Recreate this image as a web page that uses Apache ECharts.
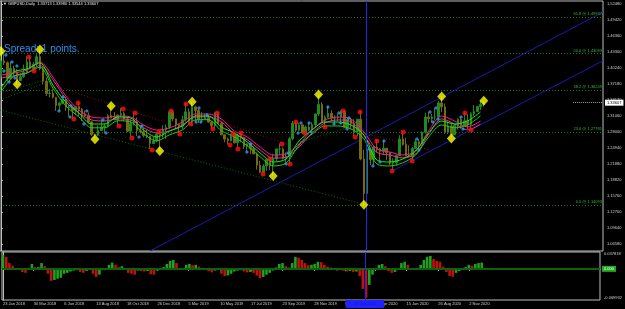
<!DOCTYPE html>
<html>
<head>
<meta charset="utf-8">
<script src="https://cdn.jsdelivr.net/npm/echarts@6/dist/echarts.min.js"></script>
<style>
    html, body { margin: 0; padding: 0; background: #000; }
    #chart { width: 625px; height: 309px; }
</style>
</head>
<body>
<div id="chart"></div>
<script>
// GBPUSD, one bar per week, week 0 = 22 Jan 2018
const firstOpen = 1.3865;
const weekHigh = [
    1.4345, 1.4283, 1.4148, 1.4145, 1.4070, 1.4003, 1.3930, 1.4088, 1.4245, 1.4243,
    1.4137, 1.4290, 1.4377, 1.4050, 1.3840, 1.3620, 1.3615, 1.3470, 1.3380, 1.3470,
    1.3470, 1.3315, 1.3290, 1.3300, 1.3360, 1.3260, 1.3210, 1.3175, 1.2985, 1.2770,
    1.2925, 1.3045, 1.2965, 1.3140, 1.3298, 1.3180, 1.3130, 1.3258, 1.3185, 1.3095,
    1.3040, 1.3175, 1.3075, 1.2930, 1.2880, 1.2840, 1.2670, 1.2715, 1.2790, 1.2815,
    1.2930, 1.2945, 1.3215, 1.3215, 1.3055, 1.2965, 1.3110, 1.3350, 1.3250, 1.3380,
    1.3300, 1.3250, 1.3180, 1.3150, 1.3120, 1.3000, 1.3175, 1.3175, 1.3000, 1.2750,
    1.2690, 1.2765, 1.2760, 1.2765, 1.2785, 1.2710, 1.2580, 1.2580, 1.2520, 1.2410,
    1.2250, 1.2185, 1.2275, 1.2310, 1.2385, 1.2480, 1.2580, 1.2505, 1.2410, 1.2710,
    1.3012, 1.3000, 1.2975, 1.2950, 1.2925, 1.2985, 1.2985, 1.3155, 1.3515, 1.3370,
    1.3115, 1.3285, 1.3215, 1.3120, 1.3150, 1.3210, 1.3215, 1.3070, 1.3065, 1.3045,
    1.3050, 1.3200, 1.2460, 1.2485, 1.2485, 1.2545, 1.2650, 1.2495, 1.2645, 1.2495,
    1.2400, 1.2295, 1.2370, 1.2735, 1.2815, 1.2690, 1.2545, 1.2515, 1.2670, 1.2665,
    1.2810, 1.3170, 1.3185, 1.3145, 1.3265, 1.3395, 1.3480, 1.3345, 1.3005, 1.2980,
    1.2955, 1.3060, 1.3085, 1.3175, 1.3140, 1.3180, 1.3315, 1.3300, 1.3400, 1.3398
];
const weekLow = [
    1.3855, 1.4080, 1.3765, 1.3835, 1.3855, 1.3711, 1.3800, 1.3837, 1.3930, 1.4000,
    1.3965, 1.4050, 1.3980, 1.3710, 1.3486, 1.3460, 1.3440, 1.3205, 1.3205, 1.3330,
    1.3205, 1.3100, 1.3050, 1.3120, 1.3105, 1.3010, 1.3085, 1.2957, 1.2725, 1.2662,
    1.2725, 1.2850, 1.2785, 1.2890, 1.3060, 1.3025, 1.2925, 1.3080, 1.3005, 1.2800,
    1.2700, 1.2925, 1.2725, 1.2770, 1.2700, 1.2680, 1.2475, 1.2580, 1.2605, 1.2438,
    1.2690, 1.2670, 1.2855, 1.3005, 1.2855, 1.2775, 1.2855, 1.3000, 1.2960, 1.2945,
    1.3005, 1.2975, 1.2990, 1.3045, 1.2975, 1.2865, 1.2875, 1.2955, 1.2750, 1.2605,
    1.2560, 1.2620, 1.2580, 1.2505, 1.2605, 1.2475, 1.2440, 1.2380, 1.2380, 1.2080,
    1.2015, 1.2015, 1.2060, 1.2070, 1.1958, 1.2235, 1.2360, 1.2275, 1.2195, 1.2195,
    1.2640, 1.2800, 1.2825, 1.2770, 1.2770, 1.2825, 1.2820, 1.2890, 1.3105, 1.2975,
    1.2900, 1.3075, 1.3010, 1.2955, 1.3015, 1.2955, 1.2870, 1.2870, 1.2850, 1.2725,
    1.2725, 1.2260, 1.1409, 1.1475, 1.2165, 1.2165, 1.2410, 1.2245, 1.2360, 1.2265,
    1.2165, 1.2080, 1.2160, 1.2340, 1.2540, 1.2335, 1.2335, 1.2250, 1.2480, 1.2480,
    1.2565, 1.2770, 1.2980, 1.2980, 1.3025, 1.3065, 1.3180, 1.2765, 1.2760, 1.2675,
    1.2805, 1.2845, 1.2865, 1.2915, 1.2855, 1.2855, 1.3105, 1.3200, 1.3220, 1.3285
];
const weekClose = [
    1.4157, 1.4126, 1.3820, 1.4018, 1.3940, 1.3786, 1.3857, 1.3940, 1.4140, 1.4015,
    1.4095, 1.4240, 1.4010, 1.3770, 1.3535, 1.3540, 1.3465, 1.3310, 1.3350, 1.3420,
    1.3270, 1.3265, 1.3215, 1.3285, 1.3235, 1.3140, 1.3110, 1.2995, 1.2750, 1.2740,
    1.2830, 1.2895, 1.2920, 1.3115, 1.3070, 1.3035, 1.3125, 1.3150, 1.3050, 1.2815,
    1.2970, 1.2995, 1.2825, 1.2805, 1.2735, 1.2720, 1.2580, 1.2630, 1.2755, 1.2742,
    1.2840, 1.2885, 1.3185, 1.3050, 1.2940, 1.2910, 1.3035, 1.3185, 1.3005, 1.3280,
    1.3210, 1.3030, 1.3040, 1.3070, 1.2990, 1.2920, 1.3170, 1.2960, 1.2745, 1.2665,
    1.2630, 1.2740, 1.2595, 1.2735, 1.2695, 1.2525, 1.2575, 1.2480, 1.2380, 1.2165,
    1.2030, 1.2150, 1.2275, 1.2165, 1.2290, 1.2475, 1.2475, 1.2290, 1.2330, 1.2670,
    1.2965, 1.2835, 1.2935, 1.2780, 1.2895, 1.2840, 1.2940, 1.3145, 1.3325, 1.3010,
    1.3080, 1.3155, 1.3065, 1.3075, 1.3085, 1.3200, 1.2890, 1.3045, 1.2960, 1.2810,
    1.3045, 1.2285, 1.1625, 1.2460, 1.2270, 1.2510, 1.2475, 1.2430, 1.2490, 1.2405,
    1.2200, 1.2215, 1.2350, 1.2665, 1.2560, 1.2340, 1.2335, 1.2485, 1.2615, 1.2570,
    1.2795, 1.3085, 1.3055, 1.3085, 1.3090, 1.3355, 1.3280, 1.2795, 1.2915, 1.2745,
    1.2925, 1.3045, 1.2915, 1.3015, 1.2945, 1.3150, 1.3190, 1.3285, 1.3325, 1.3361
];

// moving averages, read every 4th week
const maWeeks = [0, 4, 8, 12, 16, 20, 24, 28, 32, 36, 40, 44, 48, 52, 56, 60, 64, 68, 72,
    76, 80, 84, 88, 92, 96, 100, 104, 108, 112, 116, 120, 124, 128, 132, 136, 140, 144, 148];
const pinkUpper = [1.3890, 1.3928, 1.3986, 1.4139, 1.3852, 1.3489, 1.3221, 1.3087, 1.3068, 1.3106,
    1.3087, 1.2934, 1.2838, 1.2877, 1.2991, 1.3144, 1.3144, 1.3049, 1.2819, 1.2704, 1.2513, 1.2360,
    1.2379, 1.2571, 1.2838, 1.3030, 1.3087, 1.3049, 1.2800, 1.2475, 1.2418, 1.2360, 1.2437, 1.2819,
    1.3106, 1.3010, 1.2896, 1.3010];
const pinkLower = [1.3835, 1.3870, 1.3925, 1.4070, 1.3800, 1.3435, 1.3165, 1.3030, 1.3010, 1.3050,
    1.3030, 1.2880, 1.2780, 1.2820, 1.2935, 1.3085, 1.3090, 1.2995, 1.2765, 1.2650, 1.2455, 1.2300,
    1.2320, 1.2515, 1.2780, 1.2975, 1.3030, 1.2995, 1.2735, 1.2410, 1.2360, 1.2305, 1.2380, 1.2760,
    1.3050, 1.2955, 1.2840, 1.2950];
const greenUpper = [1.3642, 1.3948, 1.4005, 1.4120, 1.3699, 1.3374, 1.3163, 1.2953, 1.2953, 1.3087,
    1.3068, 1.2838, 1.2704, 1.2819, 1.2915, 1.3106, 1.3106, 1.2896, 1.2781, 1.2609, 1.2398, 1.2226,
    1.2284, 1.2628, 1.2838, 1.2991, 1.2991, 1.2934, 1.2743, 1.2265, 1.2226, 1.2284, 1.2437, 1.2781,
    1.3010, 1.2953, 1.3010, 1.3183];
const greenLower = [1.3570, 1.3870, 1.3930, 1.4040, 1.3640, 1.3300, 1.3090, 1.2880, 1.2880, 1.3015,
    1.2995, 1.2765, 1.2630, 1.2745, 1.2840, 1.3030, 1.3035, 1.2825, 1.2705, 1.2535, 1.2325, 1.2150,
    1.2205, 1.2550, 1.2760, 1.2915, 1.2915, 1.2860, 1.2670, 1.2190, 1.2150, 1.2210, 1.2360, 1.2705,
    1.2935, 1.2880, 1.2935, 1.3110];

// zigzag turning points
const zigzagWeeks = [0, 5, 12, 29, 34, 49, 59, 84, 98, 112, 136, 139, 149];
const zigzagPrices = [1.4345, 1.3711, 1.4377, 1.2662, 1.3298, 1.2438, 1.3380, 1.1958, 1.3515, 1.1409, 1.3480, 1.2675, 1.3398];

// fractal marks [week, price]
const redMarks = [[8.6, 1.4234], [10.2, 1.3967], [22.5, 1.3049], [23.8, 1.3355], [36.4, 1.2915], [37.7, 1.3240],
    [40.4, 1.2685], [41.4, 1.3163], [46.6, 1.2456], [48.8, 1.2800], [52.5, 1.3202], [55.2, 1.2762], [57.1, 1.3336],
    [58.6, 1.2953], [65.4, 1.2857], [66.7, 1.3163], [70.7, 1.2551], [71.6, 1.2762], [73.1, 1.2475], [74.1, 1.2781],
    [80.9, 1.1997], [83.0, 1.2284], [86.7, 1.2571], [89.2, 1.2188], [91.0, 1.2991], [93.8, 1.2781], [100.0, 1.2896],
    [105.6, 1.3202], [109.3, 1.2704], [110.8, 1.3183], [116.0, 1.2628], [120.7, 1.2054], [124.1, 1.2800],
    [126.9, 1.2245], [143.2, 1.3163], [145.1, 1.2838]];
const blueMarks = [[0.9, 1.3967], [1.5, 1.4273], [2.5, 1.3756], [3.4, 1.4139], [4.3, 1.3833], [4.9, 1.4062],
    [17.9, 1.3202], [19.1, 1.3469], [21.3, 1.3087], [21.6, 1.3297], [25.6, 1.2953], [26.5, 1.3202], [31.5, 1.3030],
    [32.4, 1.2781], [42.6, 1.2704], [43.5, 1.2915], [60.2, 1.2991], [61.1, 1.3259], [61.7, 1.2991], [63.6, 1.3125],
    [75.9, 1.2418], [76.9, 1.2571], [88.0, 1.2188], [88.6, 1.2398], [91.7, 1.2781], [92.6, 1.2972], [95.1, 1.2972],
    [95.7, 1.2800], [100.9, 1.3278], [102.8, 1.2953], [104.3, 1.3163], [104.9, 1.2972], [106.8, 1.2857],
    [107.4, 1.3068], [113.6, 1.2475], [114.8, 1.2150], [117.0, 1.2226], [118.2, 1.2628], [128.4, 1.2666],
    [129.0, 1.2456], [132.4, 1.3183], [133.3, 1.2991], [134.3, 1.3259], [134.9, 1.3049], [142.0, 1.3087],
    [142.6, 1.2857]];

// awesome oscillator, one value per week
const aoValues = [
    0.031, 0.027, 0.013, 0.007, 0.002, -0.002, -0.007, -0.009, 0.002, 0.011,
    0.004, 0.004, 0.013, 0.006, -0.011, -0.027, -0.025, -0.022, -0.020, -0.011,
    -0.009, -0.006, -0.004, -0.003, -0.007, -0.009, -0.005, -0.002, -0.011, -0.018,
    -0.013, -0.003, 0.002, 0.009, 0.014, 0.009, 0.004, 0.006, 0.002, -0.009,
    -0.011, -0.013, -0.004, -0.005, -0.006, -0.005, -0.012, -0.013, -0.004, -0.001,
    0.004, 0.011, 0.018, 0.020, 0.013, 0.002, 0.001, 0.009, 0.011, 0.008,
    0.009, 0.005, -0.002, -0.001, -0.005, -0.008, -0.004, -0.002, -0.011, -0.016,
    -0.015, -0.011, -0.006, -0.004, -0.003, -0.006, -0.008, -0.007, -0.009, -0.015,
    -0.021, -0.018, -0.013, -0.009, -0.004, 0.003, 0.011, 0.013, 0.006, 0.003,
    0.013, 0.027, 0.025, 0.020, 0.013, 0.008, 0.009, 0.011, 0.016, 0.015,
    0.009, 0.005, 0.003, -0.002, -0.004, -0.003, -0.004, -0.006, -0.005, -0.007,
    -0.006, -0.016, -0.045, -0.065, -0.036, -0.013, 0.001, 0.009, 0.011, 0.006,
    -0.005, -0.009, -0.007, 0.002, 0.013, 0.016, 0.009, 0.001, -0.002, 0.002,
    0.009, 0.020, 0.027, 0.029, 0.022, 0.018, 0.016, 0.005, -0.007, -0.016,
    -0.018, -0.009, -0.005, -0.002, 0.004, 0.009, 0.007, 0.011, 0.013, 0.014
];

// fibonacci levels
const fibLevels = [1.49937, 1.43093, 1.36249, 1.27781, 1.14093];
const fibNames = ['61.8 @ 1.49937', '50.0 @ 1.43093', '38.2 @ 1.36249', '23.6 @ 1.27781', '0.0 @ 1.14093'];

// hand-drawn lines, [[week, price], [week, price]]
const channelLines = [[[46.0, 1.0524], [185.8, 1.5095]], [[120.7, 1.2054], [185.8, 1.4162]]];
const greenDotLines = [[[-0.31, 1.3221], [112.6, 1.1409]], [[-0.31, 1.3412], [13.6, 1.3737]],
    [[-0.31, 1.3546], [13.6, 1.3795]], [[92.3, 1.2609], [106.8, 1.2877]]];
const redDotLines = [[[14.2, 1.3737], [51.2, 1.2972]], [[67.6, 1.2991], [89.2, 1.2551]], [[111.7, 1.2781], [132.4, 1.2456]]];
const crossWeek = 112.65;
const lastPrice = 1.33607;

// axis ticks
const yTicks = [1.52480, 1.49420, 1.46360, 1.43300, 1.40240, 1.37180, 1.34120, 1.31060,
    1.28000, 1.24940, 1.21880, 1.18820, 1.15760, 1.12700, 1.09640, 1.06580];
const aoTicks = [-0.069932, 0.037818];
const tickWeeks = [0, 9.57, 19.1, 29.0, 38.6, 48.1, 57.7, 67.6, 77.2, 87.0, 96.9, 106.5, 116.0, 125.6, 135.5, 145.1];
const tickLabels = ['23 Jan 2018', '30 Mar 2018', '6 Jun 2018', '13 Aug 2018', '18 Oct 2018', '26 Dec 2018',
    '5 Mar 2019', '10 May 2019', '17 Jul 2019', '23 Sep 2019', '28 Nov 2019', '6 Feb 2020', '14 Apr 2020',
    '15 Jun 2020', '26 Aug 2020', '2 Nov 2020'];

const X_MIN = -0.31;
const X_MAX = 185.8;
const FONT = 'Liberation Sans, DejaVu Sans, sans-serif';
const axisGray = '#bdbdbd';

const chart = echarts.init(document.getElementById('chart'));

const candles = weekClose.map((c, i) => [i, i === 0 ? firstOpen : weekClose[i - 1], c, weekLow[i], weekHigh[i]]);

function maSeries(values, color) {
    return {
        type: 'line', xAxisIndex: 0, yAxisIndex: 0, z: 4,
        data: maWeeks.map((w, i) => [w, values[i]]),
        smooth: 0.3, symbol: 'none', silent: true,
        lineStyle: { color: color, width: 1 }
    };
}

function segSeries(seg, color, dash) {
    return {
        type: 'line', xAxisIndex: 0, yAxisIndex: 0, z: 1,
        data: seg, symbol: 'none', silent: true,
        lineStyle: { color: color, width: 1, type: dash }
    };
}

const option = {
    backgroundColor: '#000',
    animation: false,
    textStyle: { fontFamily: FONT },
    grid: [
        { left: 0, top: 1, width: 603, height: 250, show: true, borderColor: axisGray, borderWidth: 1 },
        { left: 0, top: 252, width: 603, height: 48, show: true, borderColor: axisGray, borderWidth: 1 }
    ],
    xAxis: [
        { type: 'value', gridIndex: 0, min: X_MIN, max: X_MAX, show: false },
        {
            type: 'value', gridIndex: 1, min: X_MIN, max: X_MAX,
            axisLine: { show: true, lineStyle: { color: axisGray } },
            axisTick: { show: true, length: 2, customValues: tickWeeks, lineStyle: { color: axisGray } },
            splitLine: { show: false },
            axisLabel: {
                customValues: tickWeeks, color: '#d0d0d0', fontSize: 4, fontFamily: FONT,
                align: 'left', margin: 2,
                formatter: v => {
                    let k = 0;
                    tickWeeks.forEach((t, i) => { if (Math.abs(t - v) < Math.abs(tickWeeks[k] - v)) k = i; });
                    return tickLabels[k];
                }
            }
        }
    ],
    yAxis: [
        {
            type: 'value', gridIndex: 0, position: 'right', min: 1.0524, max: 1.5305,
            axisLine: { show: true, lineStyle: { color: axisGray } },
            axisTick: { show: true, length: 2, customValues: yTicks, lineStyle: { color: axisGray } },
            splitLine: { show: false },
            axisLabel: {
                customValues: yTicks, color: '#d0d0d0', fontSize: 4, fontFamily: FONT, margin: 4,
                formatter: v => v.toFixed(5)
            }
        },
        {
            type: 'value', gridIndex: 1, position: 'right', min: aoTicks[0], max: aoTicks[1],
            axisLine: { show: true, lineStyle: { color: axisGray } },
            axisTick: { show: false },
            splitLine: { show: false },
            axisLabel: {
                customValues: aoTicks, color: '#d0d0d0', fontSize: 4, fontFamily: FONT, margin: 4,
                verticalAlignMaxLabel: 'top', verticalAlignMinLabel: 'bottom',
                formatter: v => v.toFixed(6)
            }
        }
    ],
    graphic: [
        {
            type: 'text', left: 3, top: 2, z: 0,
            style: { text: '\u25BC GBPUSD,Daily  1.33713 1.33980 1.33544 1.33607', fill: '#e6e6e6', font: '4px ' + FONT }
        },
        {
            type: 'text', left: 4, top: 44, z: 0,
            style: { text: 'Spread: 1 points.', fill: '#2b8fef', font: '10px ' + FONT }
        }
    ],
    series: [
        // fib levels, crosshair and last price on the main panel
        {
            type: 'line', xAxisIndex: 0, yAxisIndex: 0, data: [], z: 1, silent: true,
            markLine: {
                symbol: 'none', silent: true, animation: false,
                data: fibLevels.map((lv, i) => ({
                    yAxis: lv,
                    lineStyle: { color: '#127a12', width: 1, type: [1, 2] },
                    label: {
                        show: true, position: 'insideEndTop', formatter: fibNames[i],
                        color: '#36b836', fontSize: 4, fontFamily: FONT, distance: [1, 1]
                    }
                })).concat([
                    { xAxis: crossWeek, lineStyle: { color: '#2626e6', width: 1, type: 'solid' }, label: { show: false } },
                    [
                        { coord: [176.5, lastPrice], lineStyle: { color: '#9a9a9a', width: 1, type: [1, 1] } },
                        {
                            coord: [X_MAX, lastPrice],
                            label: {
                                show: true, position: 'end', formatter: lastPrice.toFixed(5),
                                color: '#000', backgroundColor: '#ffffff', fontSize: 4, fontFamily: FONT,
                                padding: [1, 2], distance: 2
                            }
                        }
                    ]
                ])
            }
        },
        ...channelLines.map(s => segSeries(s, '#1a1ab0', 'solid')),
        ...greenDotLines.map(s => segSeries(s, '#0e6a0e', [1, 2])),
        ...redDotLines.map(s => segSeries(s, '#8a0c0c', [1, 2])),
        {
            type: 'candlestick', xAxisIndex: 0, yAxisIndex: 0, z: 3,
            data: candles, encode: { x: 0, y: [1, 2, 3, 4] },
            barWidth: 2, silent: true,
            itemStyle: { color: '#1f8a1f', color0: '#736a12', borderColor: '#1f8a1f', borderColor0: '#736a12', borderWidth: 1 }
        },
        maSeries(pinkUpper, '#ff1493'),
        maSeries(pinkLower, '#e8309a'),
        maSeries(greenUpper, '#00ff00'),
        maSeries(greenLower, '#22c822'),
        {
            type: 'scatter', xAxisIndex: 0, yAxisIndex: 0, z: 5, silent: true,
            data: blueMarks, symbol: 'diamond', symbolSize: 4,
            itemStyle: { color: '#2a9bff' }
        },
        {
            type: 'scatter', xAxisIndex: 0, yAxisIndex: 0, z: 5, silent: true,
            data: redMarks, symbol: 'circle', symbolSize: 5,
            itemStyle: { color: '#ff1010' }
        },
        {
            type: 'scatter', xAxisIndex: 0, yAxisIndex: 0, z: 6, silent: true,
            data: zigzagWeeks.map((w, i) => [w, zigzagPrices[i]]),
            symbol: 'diamond', symbolSize: [9, 10],
            itemStyle: { color: '#ffff00' }
        },
        // AO panel
        {
            type: 'bar', xAxisIndex: 1, yAxisIndex: 1, z: 3, silent: true,
            data: aoValues.map((v, i) => [i, v]), barWidth: 2.6,
            itemStyle: {
                color: p => (p.dataIndex > 0 && aoValues[p.dataIndex] < aoValues[p.dataIndex - 1]) ? '#c01010' : '#1fa01f'
            },
            markLine: {
                symbol: 'none', silent: true, animation: false,
                data: [
                    {
                        yAxis: 0, lineStyle: { color: '#0b640b', width: 2, type: 'solid' },
                        label: {
                            show: true, position: 'end', formatter: '0.000', color: '#ffffff',
                            backgroundColor: '#22aa22', fontSize: 4, fontFamily: FONT, padding: [1, 2], distance: 2
                        }
                    },
                    {
                        xAxis: crossWeek, lineStyle: { color: '#2626e6', width: 1, type: 'solid' },
                        label: {
                            show: true, position: 'start', formatter: '20 Mar 2020', color: '#1616c8',
                            backgroundColor: '#2222ff', fontSize: 4, fontFamily: FONT, padding: [2, 8], distance: 0
                        }
                    }
                ]
            }
        }
    ]
};

chart.setOption(option);
</script>
</body>
</html>
